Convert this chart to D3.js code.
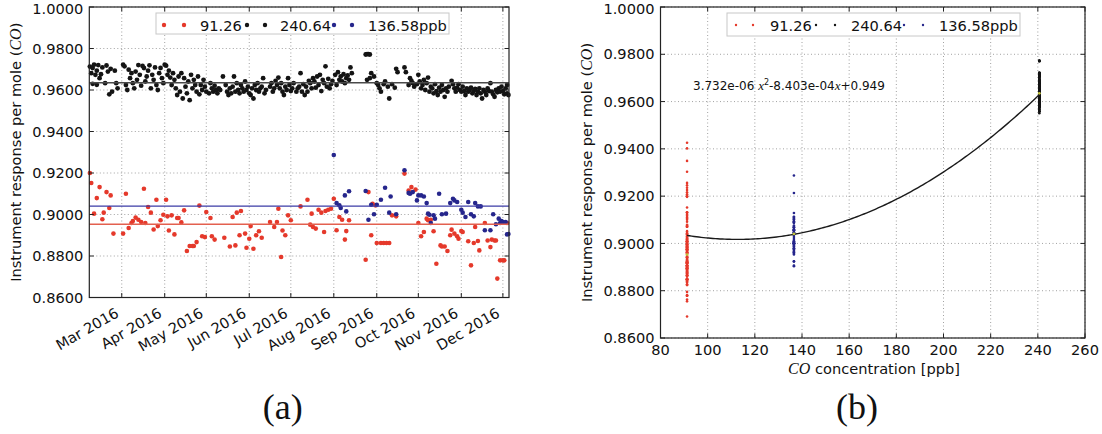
<!DOCTYPE html>
<html>
<head>
<meta charset="utf-8">
<script src="https://cdn.jsdelivr.net/npm/d3@7"></script>
<style>
  body { margin: 0; background: #fff; }
  svg text { font-family: "DejaVu Sans", sans-serif; fill: #111; }
</style>
</head>
<body>
<svg id="chart" width="1102" height="434"></svg>
<script>
// ---- data -------------------------------------------------------------
// Reference gas concentrations (ppb) and their legend labels
const concValues = [91.26, 240.64, 136.58];
const concLabels = ["91.26", "240.64", "136.58ppb"];

// Daily instrument response per mole, 91.26 ppb cylinder  [month-day, value]
const resp91 = [
  ["02-07",0.9200],["02-08",0.9152],["02-10",0.9004],["02-12",0.9079],["02-14",0.9132],
  ["02-16",0.8977],["02-17",0.9009],["02-19",0.9108],["02-21",0.9031],["02-22",0.9092],
  ["02-24",0.8908],["03-02",0.8908],["03-04",0.9100],["03-06",0.8935],["03-08",0.8959],
  ["03-09",0.8969],["03-11",0.8985],["03-13",0.8975],["03-15",0.8964],["03-17",0.9124],
  ["03-18",0.8959],["03-20",0.9036],["03-22",0.9009],["03-24",0.8928],["03-26",0.9071],
  ["03-27",0.8944],["03-29",0.8972],["03-31",0.8999],["04-02",0.9071],["04-03",0.8991],
  ["04-04",0.8923],["04-06",0.8996],["04-08",0.8904],["04-10",0.8983],["04-11",0.8983],
  ["04-13",0.8962],["04-15",0.9020],["04-17",0.8824],["04-19",0.8848],["04-21",0.8848],
  ["04-22",0.8848],["04-24",0.8867],["04-26",0.9043],["04-28",0.8895],["04-30",0.8891],
  ["05-01",0.9012],["05-04",0.8983],["05-05",0.8895],["05-07",0.8879],["05-14",0.8888],
  ["05-18",0.8846],["05-20",0.8988],["05-22",0.8851],["05-23",0.9009],["05-25",0.8900],
  ["05-26",0.9017],["05-29",0.8908],["05-30",0.8840],["06-01",0.8883],["06-02",0.8944],
  ["06-04",0.8835],["06-06",0.8900],["06-08",0.8919],["06-10",0.8888],["06-16",0.8964],
  ["06-19",0.8940],["06-21",0.8964],["06-22",0.9028],["06-24",0.8795],["06-25",0.8923],
  ["06-27",0.8900],["06-29",0.8996],["07-01",0.8972],["07-08",0.9039],["07-13",0.9071],
  ["07-15",0.8951],["07-16",0.9004],["07-17",0.8940],["07-19",0.8932],["07-21",0.9023],
  ["07-23",0.9009],["07-25",0.8916],["07-26",0.9017],["07-28",0.9023],["07-30",0.9028],
  ["08-01",0.9076],["08-03",0.8924],["08-05",0.8988],["08-07",0.8975],["08-09",0.8879],
  ["08-10",0.8920],["08-12",0.8972],["08-24",0.8782],["08-26",0.9108],["08-28",0.8900],
  ["08-29",0.9052],["08-31",0.9044],["09-01",0.8863],["09-04",0.8863],["09-06",0.8863],
  ["09-08",0.8863],["09-10",0.8863],["09-12",0.8996],["09-15",0.8991],["09-21",0.9197],
  ["09-24",0.9116],["09-26",0.9132],["09-29",0.9120],["10-01",0.8959],["10-03",0.8895],
  ["10-05",0.8916],["10-07",0.8980],["10-08",0.8972],["10-10",0.8975],["10-12",0.8919],
  ["10-14",0.8763],["10-17",0.8851],["10-18",0.8846],["10-20",0.8846],["10-22",0.8824],
  ["10-24",0.8900],["10-25",0.8927],["10-27",0.8908],["10-29",0.8895],["10-30",0.8883],
  ["11-01",0.8920],["11-02",0.8916],["11-06",0.8871],["11-08",0.8755],["11-10",0.8863],
  ["11-11",0.8940],["11-13",0.8872],["11-14",0.8827],["11-18",0.8959],["11-20",0.8875],
  ["11-22",0.8843],["11-23",0.8879],["11-25",0.8875],["11-26",0.8875],["11-27",0.8691],
  ["11-29",0.8779],["12-01",0.8779],["12-02",0.8779],["12-04",0.8959]
];

// Daily instrument response per mole, 240.64 ppb cylinder
const resp240 = [
  ["02-07",0.9713],["02-08",0.9681],["02-09",0.9706],["02-09",0.9630],["02-10",0.9722],
  ["02-11",0.9673],["02-12",0.9693],["02-12",0.9625],["02-13",0.9720],["02-14",0.9657],
  ["02-15",0.9676],["02-16",0.9709],["02-18",0.9633],["02-19",0.9718],["02-20",0.9689],
  ["02-21",0.9579],["02-22",0.9702],["02-23",0.9592],["02-25",0.9693],["02-26",0.9633],
  ["02-27",0.9608],
  ["03-02",0.9722],["03-03",0.9714],["03-04",0.9624],["03-05",0.9600],["03-06",0.9698],
  ["03-07",0.9657],["03-08",0.9681],["03-09",0.9633],["03-10",0.9608],["03-11",0.9689],
  ["03-12",0.9649],["03-13",0.9720],["03-14",0.9673],["03-15",0.9621],["03-16",0.9716],
  ["03-17",0.9706],["03-18",0.9641],["03-19",0.9665],["03-20",0.9693],["03-21",0.9719],
  ["03-22",0.9608],["03-23",0.9673],["03-24",0.9649],["03-25",0.9709],["03-26",0.9624],
  ["03-27",0.9600],["03-28",0.9681],["03-29",0.9706],["03-30",0.9657],["03-31",0.9633],
  ["04-01",0.9722],["04-02",0.9717],["04-03",0.9673],["04-04",0.9693],["04-05",0.9660],
  ["04-06",0.9624],["04-07",0.9681],["04-08",0.9649],["04-09",0.9608],["04-10",0.9576],
  ["04-11",0.9665],["04-12",0.9592],["04-13",0.9681],["04-14",0.9559],["04-15",0.9657],
  ["04-16",0.9616],["04-17",0.9584],["04-18",0.9641],["04-19",0.9551],["04-20",0.9673],
  ["04-21",0.9608],["04-22",0.9649],["04-23",0.9624],["04-24",0.9592],["04-25",0.9665],
  ["04-26",0.9579],["04-27",0.9624],["04-28",0.9600],["04-29",0.9649],["04-30",0.9616],
  ["05-01",0.9592],["05-03",0.9584],["05-04",0.9633],["05-05",0.9608],["05-06",0.9592],
  ["05-07",0.9621],["05-08",0.9600],["05-09",0.9584],["05-10",0.9608],["05-11",0.9600],
  ["05-13",0.9665],["05-15",0.9624],["05-16",0.9592],["05-17",0.9576],["05-18",0.9608],
  ["05-19",0.9584],["05-20",0.9616],["05-21",0.9665],["05-22",0.9592],["05-23",0.9633],
  ["05-24",0.9600],["05-25",0.9584],["05-26",0.9624],["05-27",0.9608],["05-28",0.9592],
  ["05-29",0.9641],["05-30",0.9600],["05-31",0.9616],["06-01",0.9584],["06-02",0.9576],
  ["06-03",0.9608],["06-04",0.9559],["06-05",0.9624],["06-06",0.9600],["06-07",0.9633],
  ["06-08",0.9592],["06-09",0.9608],["06-10",0.9616],["06-11",0.9657],["06-12",0.9584],
  ["06-13",0.9600],["06-16",0.9616],["06-17",0.9633],["06-18",0.9592],["06-19",0.9608],
  ["06-20",0.9644],["06-21",0.9624],["06-22",0.9660],["06-23",0.9608],["06-24",0.9633],
  ["06-25",0.9592],["06-26",0.9576],["06-27",0.9616],["06-28",0.9600],["06-29",0.9657],
  ["06-30",0.9624],["07-01",0.9595],["07-02",0.9608],["07-03",0.9633],["07-05",0.9592],
  ["07-06",0.9608],["07-07",0.9616],["07-08",0.9681],["07-09",0.9592],["07-10",0.9628],
  ["07-11",0.9576],["07-12",0.9616],["07-13",0.9592],["07-14",0.9644],["07-15",0.9633],
  ["07-16",0.9608],["07-17",0.9657],["07-18",0.9641],["07-19",0.9611],["07-20",0.9665],
  ["07-21",0.9624],["07-22",0.9673],["07-23",0.9595],["07-24",0.9649],["07-25",0.9633],
  ["07-26",0.9714],["07-27",0.9616],["07-28",0.9654],["07-29",0.9608],["07-30",0.9628],
  ["07-31",0.9644],["08-02",0.9673],["08-03",0.9624],["08-04",0.9686],["08-05",0.9649],
  ["08-06",0.9665],["08-07",0.9641],["08-08",0.9676],["08-09",0.9633],["08-10",0.9657],
  ["08-11",0.9670],["08-12",0.9649],["08-13",0.9709],["08-14",0.9681],
  ["08-24",0.9771],["08-25",0.9773],["08-26",0.9773],["08-27",0.9771],
  ["08-25",0.9649],["08-27",0.9657],["08-28",0.9681],["08-30",0.9665],["09-01",0.9633],
  ["09-02",0.9624],["09-03",0.9608],["09-04",0.9592],["09-06",0.9628],["09-07",0.9641],
  ["09-09",0.9616],["09-10",0.9559],["09-12",0.9628],["09-14",0.9611],["09-15",0.9702],
  ["09-16",0.9686],["09-21",0.9709],["09-22",0.9686],["09-24",0.9624],["09-25",0.9657],
  ["09-26",0.9644],["09-27",0.9633],["09-28",0.9616],["09-30",0.9628],["10-01",0.9673],
  ["10-02",0.9641],["10-03",0.9608],["10-04",0.9624],["10-05",0.9649],["10-06",0.9600],
  ["10-07",0.9633],["10-08",0.9660],["10-09",0.9592],["10-10",0.9616],["10-11",0.9608],
  ["10-12",0.9584],["10-13",0.9628],["10-14",0.9595],["10-15",0.9576],["10-16",0.9611],
  ["10-17",0.9592],["10-18",0.9624],["10-19",0.9600],["10-20",0.9567],["10-21",0.9608],
  ["10-22",0.9592],["10-23",0.9616],["10-25",0.9644],["10-26",0.9628],["10-27",0.9608],
  ["10-28",0.9592],["10-29",0.9611],["10-30",0.9628],["10-31",0.9600],["11-01",0.9592],
  ["11-02",0.9616],["11-03",0.9595],["11-04",0.9576],["11-05",0.9608],["11-06",0.9592],
  ["11-07",0.9600],["11-08",0.9611],["11-09",0.9584],["11-10",0.9595],["11-11",0.9605],
  ["11-12",0.9576],["11-13",0.9592],["11-14",0.9608],["11-15",0.9584],["11-16",0.9559],
  ["11-17",0.9600],["11-18",0.9592],["11-19",0.9576],["11-20",0.9608],["11-21",0.9595],
  ["11-22",0.9633],["11-23",0.9592],["11-24",0.9579],["11-25",0.9567],["11-26",0.9600],
  ["11-27",0.9589],["11-28",0.9608],["11-29",0.9592],["11-30",0.9616],["12-01",0.9595],
  ["12-02",0.9579],["12-03",0.9608],["12-04",0.9624],["12-04",0.9584],["12-05",0.9576]
];

// Daily instrument response per mole, 136.58 ppb cylinder
const resp136 = [
  ["08-01",0.9287],["08-03",0.9055],["08-05",0.9044],["08-06",0.9031],["08-09",0.9092],
  ["08-10",0.9015],["08-12",0.9112],["08-24",0.9113],["08-26",0.8975],["08-28",0.9047],
  ["08-30",0.9001],["09-01",0.9047],["09-04",0.9071],["09-07",0.9129],["09-10",0.9009],
  ["09-11",0.9087],["09-15",0.9001],["09-21",0.9213],["09-24",0.9104],["09-25",0.9100],
  ["09-27",0.9108],["09-30",0.9068],["10-01",0.9092],["10-03",0.9092],["10-05",0.9087],
  ["10-07",0.9055],["10-08",0.9004],["10-09",0.8999],["10-10",0.8959],["10-12",0.8996],
  ["10-13",0.8980],["10-16",0.9100],["10-18",0.9001],["10-21",0.9004],["10-24",0.9055],
  ["10-26",0.9076],["10-27",0.9068],["10-29",0.9060],["11-01",0.9023],["11-02",0.9009],
  ["11-04",0.8988],["11-06",0.9060],["11-08",0.9001],["11-10",0.8991],["11-11",0.9055],
  ["11-13",0.9039],["11-15",0.9039],["11-18",0.8924],["11-22",0.8924],["11-24",0.9001],
  ["11-26",0.8953],["11-28",0.8980],["11-29",0.8959],["11-30",0.8969],["12-01",0.8964],
  ["12-03",0.8964],["12-04",0.8904],["12-05",0.8906]
];

// Further 91.26 ppb responses that appear only in the concentration plot
const resp91More = [0.9426, 0.9402, 0.9349, 0.9303, 0.9256, 0.9246, 0.9236, 0.9226, 0.9216, 0.9208];

// Mean response of each cylinder over the period
const meanResp91 = 0.8953;
const meanResp136 = 0.9040;
const meanResp240 = 0.9635;

// Quadratic calibration fit: a*x^2 + b*x + c
const fitCoef = [3.732e-06, -8.403e-04, 0.949];

// Axis ticks
const yTicks = [0.86, 0.88, 0.90, 0.92, 0.94, 0.96, 0.98, 1.00];
const concTicks = [80, 100, 120, 140, 160, 180, 200, 220, 240, 260];

const colRed = "#e5392b", colBlack = "#141414", colBlue = "#26268c";
const seriesColors = [colRed, colBlack, colBlue];

// ---- helpers ----------------------------------------------------------
const parseDay = d3.utcParse("%Y-%m-%d");
const toDate = md => parseDay("2016-" + md);
const svg = d3.select("#chart");

function gridLines(g, x, y, box, xTickVals) {
  g.append("g").selectAll("line").data(xTickVals).join("line")
    .attr("x1", d => x(d)).attr("x2", d => x(d))
    .attr("y1", box.top).attr("y2", box.bottom)
    .attr("stroke", "#8a8a8a").attr("stroke-width", 0.8).attr("stroke-dasharray", "1,2.5");
  g.append("g").selectAll("line").data(yTicks).join("line")
    .attr("x1", box.left).attr("x2", box.right)
    .attr("y1", d => y(d)).attr("y2", d => y(d))
    .attr("stroke", "#8a8a8a").attr("stroke-width", 0.8).attr("stroke-dasharray", "1,2.5");
}

function axesOnTop(g, x, y, box, xTickVals) {
  const t = 4.5;
  const tk = g.append("g").attr("stroke", "#222").attr("stroke-width", 1);
  xTickVals.forEach(v => {
    tk.append("line").attr("x1", x(v)).attr("x2", x(v)).attr("y1", box.bottom).attr("y2", box.bottom - t);
    tk.append("line").attr("x1", x(v)).attr("x2", x(v)).attr("y1", box.top).attr("y2", box.top + t);
  });
  yTicks.forEach(v => {
    tk.append("line").attr("x1", box.left).attr("x2", box.left + t).attr("y1", y(v)).attr("y2", y(v));
    tk.append("line").attr("x1", box.right).attr("x2", box.right - t).attr("y1", y(v)).attr("y2", y(v));
  });
  g.append("rect").attr("x", box.left).attr("y", box.top)
    .attr("width", box.right - box.left).attr("height", box.bottom - box.top)
    .attr("fill", "none").attr("stroke", "#222").attr("stroke-width", 1.2);
  // y tick labels, the top one kept inside the drawing
  g.append("g").selectAll("text").data(yTicks).join("text")
    .attr("x", box.left - 6).attr("y", d => Math.max(y(d) + 5.2, 14))
    .attr("text-anchor", "end").style("font-size", "14.6px")
    .text(d3.format(".4f"));
}

function yTitle(g, cx, cy) {
  const t = g.append("text")
    .attr("transform", `translate(${cx},${cy}) rotate(-90)`)
    .attr("text-anchor", "middle").style("font-size", "14.6px");
  t.append("tspan").text("Instrument response per mole (");
  t.append("tspan").style("font-family", "'Liberation Serif', serif").style("font-style", "italic")
    .style("font-size", "16px").text("CO");
  t.append("tspan").text(")");
}

function legend(g, box, pos, r) {
  g.append("rect").attr("x", box.x).attr("y", box.y).attr("width", box.w).attr("height", box.h)
    .attr("fill", "#fff").attr("stroke", "#c8c8c8").attr("stroke-width", 1);
  concLabels.forEach((lab, i) => {
    const p = pos[i];
    g.append("circle").attr("cx", p[0]).attr("cy", box.y + 12).attr("r", r).attr("fill", seriesColors[i]);
    g.append("circle").attr("cx", p[1]).attr("cy", box.y + 12).attr("r", r).attr("fill", seriesColors[i]);
    g.append("text").attr("x", p[2]).attr("y", box.y + 17.7).style("font-size", "14.6px").text(lab);
  });
}

// ---- panel (a): time series -------------------------------------------
const boxA = { left: 89.3, right: 509, top: 7, bottom: 297.5 };
const xA = d3.scaleUtc()
  .domain([new Date(Date.UTC(2016, 1, 6, 14)), new Date(Date.UTC(2016, 11, 5, 10))])
  .range([boxA.left, boxA.right]);
const yA = d3.scaleLinear().domain([0.86, 1.0]).range([boxA.bottom, boxA.top]);
const monthTicks = d3.utcMonth.range(new Date(Date.UTC(2016, 2, 1)), new Date(Date.UTC(2016, 11, 2)));

const gA = svg.append("g");
gridLines(gA, xA, yA, boxA, monthTicks);

const plotA = gA.append("g");
[[resp91, colRed, 2.3], [resp240, colBlack, 2.4], [resp136, colBlue, 2.3]].forEach(([data, col, r]) => {
  plotA.append("g").selectAll("circle").data(data).join("circle")
    .attr("cx", d => xA(toDate(d[0]))).attr("cy", d => yA(d[1]))
    .attr("r", r).attr("fill", col);
});
[[meanResp240, "#4a4a4a", 1.6], [meanResp136, "#3b3ba6", 1.3], [meanResp91, "#e3604f", 1.3]].forEach(([v, c, w]) => {
  plotA.append("line").attr("x1", boxA.left).attr("x2", boxA.right)
    .attr("y1", yA(v)).attr("y2", yA(v)).attr("stroke", c).attr("stroke-width", w);
});
axesOnTop(gA, xA, yA, boxA, monthTicks);

gA.append("g").selectAll("text").data(monthTicks).join("text")
  .attr("transform", d => `translate(${xA(d) - 2},${316}) rotate(-30)`)
  .attr("text-anchor", "end").style("font-size", "14.6px")
  .text(d3.utcFormat("%b %Y"));

yTitle(gA, 21, (boxA.top + boxA.bottom) / 2);
legend(gA, { x: 156, y: 13, w: 293, h: 21 }, [[164, 184, 200], [247, 265, 280], [334, 352, 368]], 2.2);

svg.append("text").attr("x", 282.7).attr("y", 419).attr("text-anchor", "middle")
  .style("font-family", "'Liberation Serif', serif").style("font-size", "36px").text("(a)");

// ---- panel (b): response vs concentration -----------------------------
const boxB = { left: 660.5, right: 1085, top: 7, bottom: 338 };
const xB = d3.scaleLinear().domain([80, 260]).range([boxB.left, boxB.right]);
const yB = d3.scaleLinear().domain([0.86, 1.0]).range([boxB.bottom, boxB.top]);

const gB = svg.append("g");
gridLines(gB, xB, yB, boxB, concTicks);

const columns = [
  [concValues[0], resp91.map(d => d[1]).concat(resp91More), colRed],
  [concValues[2], resp136.map(d => d[1]), colBlue],
  [concValues[1], resp240.map(d => d[1]), colBlack]
];
columns.forEach(([c, vals, col]) => {
  gB.append("g").selectAll("circle").data(vals).join("circle")
    .attr("cx", xB(c)).attr("cy", d => yB(d)).attr("r", 1.3).attr("fill", col);
});

const fit = x => fitCoef[0] * x * x + fitCoef[1] * x + fitCoef[2];
const xs = d3.range(concValues[0], concValues[1], 1).concat([concValues[1]]);
gB.append("path").datum(xs)
  .attr("d", d3.line().x(d => xB(d)).y(d => yB(fit(d))))
  .attr("fill", "none").attr("stroke", "#1a1a1a").attr("stroke-width", 1.4);

// mean response marked on each column
gB.append("g").selectAll("circle")
  .data([[concValues[0], meanResp91], [concValues[2], meanResp136], [concValues[1], meanResp240]])
  .join("circle")
  .attr("cx", d => xB(d[0])).attr("cy", d => yB(d[1])).attr("r", 1.4).attr("fill", "#c2c23a");

axesOnTop(gB, xB, yB, boxB, concTicks);

gB.append("g").selectAll("text").data(concTicks).join("text")
  .attr("x", d => xB(d)).attr("y", 355).attr("text-anchor", "middle")
  .style("font-size", "14.6px").text(d => d);

const xl = gB.append("text").attr("x", 874).attr("y", 374).attr("text-anchor", "middle")
  .style("font-size", "14.6px");
xl.append("tspan").style("font-family", "'Liberation Serif', serif").style("font-style", "italic")
  .style("font-size", "16px").text("CO");
xl.append("tspan").text(" concentration [ppb]");

yTitle(gB, 592, (boxB.top + boxB.bottom) / 2);
legend(gB, { x: 727, y: 13, w: 293, h: 23 }, [[736, 753, 770], [816, 835, 851], [904, 923, 939]], 1.2);

const eq = gB.append("text").attr("x", 693).attr("y", 90).style("font-size", "12px");
eq.append("tspan").text("3.732e-06 ");
eq.append("tspan").style("font-family", "'Liberation Serif', serif").style("font-style", "italic").style("font-size", "13px").text("x");
eq.append("tspan").attr("dy", -5).style("font-size", "8px").text("2");
eq.append("tspan").attr("dy", 5).text("-8.403e-04");
eq.append("tspan").style("font-family", "'Liberation Serif', serif").style("font-style", "italic").style("font-size", "13px").text("x");
eq.append("tspan").text("+0.949");

svg.append("text").attr("x", 857).attr("y", 419).attr("text-anchor", "middle")
  .style("font-family", "'Liberation Serif', serif").style("font-size", "36px").text("(b)");
</script>
</body>
</html>
